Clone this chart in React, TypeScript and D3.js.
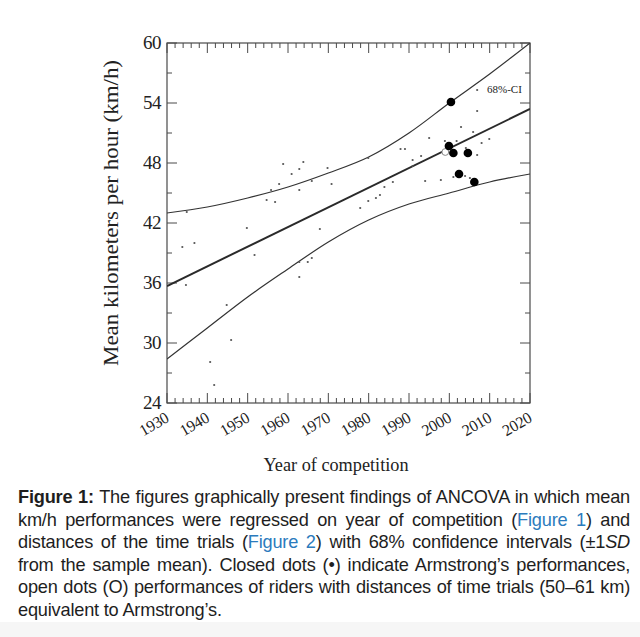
import React, { useLayoutEffect, useRef } from "react";
import * as d3 from "d3";

// ---- data ----
const xMajorTicks = [1930, 1940, 1950, 1960, 1970, 1980, 1990, 2000, 2010, 2020];
const xTickLabels = ["1930", "1940", "1950", "1960", "1970", "1980", "1990", "2000", "2010", "2020"];
const yMajorTicks = [24, 30, 36, 42, 48, 54, 60];
const yTickLabels = ["24", "30", "36", "42", "48", "54", "60"];

const fitYears = [1930, 2020];
const fitKmh = [35.7, 53.4];

const ciYears = [1930, 1940, 1950, 1960, 1970, 1980, 1990, 2000, 2010, 2020];
const ciUpper = [43.0, 43.6, 44.5, 45.6, 47.0, 48.6, 51.0, 54.0, 56.9, 60.0];
const ciLower = [28.4, 31.5, 34.6, 37.4, 40.1, 42.3, 43.9, 45.0, 46.1, 46.9];

const otherYears = [
  1933.8, 1934.9, 1934.7, 1936.8, 1940.7, 1941.7, 1944.8, 1945.9, 1949.8, 1951.7,
  1954.7, 1955.8, 1956.8, 1957.8, 1958.8, 1960.9, 1962.8, 1963.8, 1962.8, 1965.9,
  1969.8, 1970.8, 1967.9, 1965.9, 1962.8, 1964.9, 1962.8, 1977.9, 1979.9, 1981.8,
  1982.8, 1983.9, 1986.0, 1979.9, 1987.9, 1989.0, 1990.9, 1990.9, 1993.0, 1994.0,
  1995.0, 1997.9, 1998.9, 2001.8, 2001.0, 2002.9, 2003.9, 2004.1, 2005.1, 2005.9,
  2006.9, 2006.9, 2006.9, 2008.0, 2009.9,
];
const otherKmh = [
  39.6, 43.1, 35.8, 40.0, 28.1, 25.8, 33.8, 30.3, 41.5, 38.8,
  44.3, 45.3, 44.1, 45.9, 47.9, 46.9, 47.4, 48.1, 45.3, 46.2,
  47.5, 45.9, 41.4, 38.5, 38.1, 38.1, 36.6, 43.5, 44.2, 44.5,
  44.8, 45.6, 46.1, 48.5, 49.4, 49.4, 48.3, 47.7, 48.7, 46.2,
  50.5, 46.3, 50.2, 50.2, 46.6, 51.6, 46.7, 49.5, 46.5, 51.1,
  55.3, 53.2, 48.8, 50.0, 50.4,
];

const equivYears = [1999.0];
const equivKmh = [49.1];

const armstrongYears = [2000.4, 1999.9, 2001.0, 2004.6, 2002.4, 2006.2];
const armstrongKmh = [54.1, 49.7, 49.0, 49.0, 46.9, 46.1];

type Seg = { t: string; b?: boolean; i?: boolean; blue?: boolean };
const captionLines: { segs: Seg[]; justify: boolean }[] = [
  { segs: [{ t: "Figure 1:", b: true }, { t: " The figures graphically present findings of ANCOVA in which mean" }], justify: true },
  { segs: [{ t: "km/h performances were regressed on year of competition (" }, { t: "Figure 1", blue: true }, { t: ") and" }], justify: true },
  { segs: [{ t: "distances of the time trials (" }, { t: "Figure 2", blue: true }, { t: ") with 68% confidence intervals (±1" }, { t: "SD", i: true }], justify: true },
  { segs: [{ t: "from the sample mean). Closed dots (•) indicate Armstrong’s performances," }], justify: true },
  { segs: [{ t: "open dots (O) performances of riders with distances of time trials (50–61 km)" }], justify: true },
  { segs: [{ t: "equivalent to Armstrong’s." }], justify: false },
];

// ---- layout ----
const W = 640;
const H = 637;
const L = 167, R = 530, T = 43, B = 403;

export default function App() {
  const x = d3.scaleLinear().domain([1930, 2020]).range([L, R]);
  const y = d3.scaleLinear().domain([24, 60]).range([B, T]);

  const curve = d3
    .line<number>()
    .x((_, i) => x(ciYears[i]))
    .curve(d3.curveMonotoneX);
  const upperPath = curve.y((d) => y(d))(ciUpper) || "";
  const lowerPath = curve.y((d) => y(d))(ciLower) || "";
  const fitPath =
    d3
      .line<number>()
      .x((_, i) => x(fitYears[i]))
      .y((d) => y(d))(fitKmh) || "";

  const xMinor = d3.range(1930, 2021, 2).filter((v) => v % 10 !== 0);
  const yMinor = d3.range(27, 60, 6);

  const capRefs = useRef<(SVGTextElement | null)[]>([]);
  useLayoutEffect(() => {
    const target = 612;
    capRefs.current.forEach((el, i) => {
      if (!el || !captionLines[i].justify) return;
      el.style.wordSpacing = "0px";
      const w = el.getComputedTextLength();
      const text = captionLines[i].segs.map((s) => s.t).join("");
      const spaces = (text.match(/ /g) || []).length;
      if (spaces > 0) el.style.wordSpacing = `${(target - w) / spaces}px`;
    });
  }, []);

  const axisColor = "#4a4a4a";
  const textColor = "#222";

  return (
    <svg
      width={W}
      height={H}
      viewBox={`0 0 ${W} ${H}`}
      style={{ position: "absolute", left: 0, top: 0, background: "#fff" }}
    >
      <rect x={0} y={0} width={W} height={H} fill="#fff" />
      <rect x={0} y={622} width={W} height={H - 622} fill="#f6f6f6" />
      <defs>
        <clipPath id="plot">
          <rect x={L} y={T} width={R - L} height={B - T} />
        </clipPath>
      </defs>

      {/* ticks on all four sides, pointing inward */}
      <g stroke={axisColor} strokeWidth={1}>
        {xMajorTicks.map((v) => (
          <g key={"xm" + v}>
            <line x1={x(v)} x2={x(v)} y1={B} y2={B - 10} />
            <line x1={x(v)} x2={x(v)} y1={T} y2={T + 10} />
          </g>
        ))}
        {xMinor.map((v) => (
          <g key={"xn" + v}>
            <line x1={x(v)} x2={x(v)} y1={B} y2={B - 5} />
            <line x1={x(v)} x2={x(v)} y1={T} y2={T + 5} />
          </g>
        ))}
        {yMajorTicks.map((v) => (
          <g key={"ym" + v}>
            <line x1={L} x2={L + 10} y1={y(v)} y2={y(v)} />
            <line x1={R} x2={R - 10} y1={y(v)} y2={y(v)} />
          </g>
        ))}
        {yMinor.map((v) => (
          <g key={"yn" + v}>
            <line x1={L} x2={L + 5} y1={y(v)} y2={y(v)} />
            <line x1={R} x2={R - 5} y1={y(v)} y2={y(v)} />
          </g>
        ))}
      </g>
      <rect x={L} y={T} width={R - L} height={B - T} fill="none" stroke={axisColor} strokeWidth={1.2} />

      {/* curves */}
      <g clipPath="url(#plot)" fill="none">
        <path d={upperPath} stroke="#333" strokeWidth={1.2} />
        <path d={lowerPath} stroke="#333" strokeWidth={1.2} />
        <path d={fitPath} stroke="#2a2a2a" strokeWidth={2} />
      </g>

      {/* points */}
      <g fill="#555">
        {otherYears.map((yr, i) => (
          <circle key={"o" + i} cx={x(yr)} cy={y(otherKmh[i])} r={1.1} />
        ))}
      </g>
      <g fill="#fff" stroke="#888" strokeWidth={1}>
        {equivYears.map((yr, i) => (
          <circle key={"e" + i} cx={x(yr)} cy={y(equivKmh[i])} r={3.4} />
        ))}
      </g>
      <g fill="#000">
        {armstrongYears.map((yr, i) => (
          <circle key={"a" + i} cx={x(yr)} cy={y(armstrongKmh[i])} r={4.3} />
        ))}
      </g>

      <text x={487} y={93} fontFamily="'Liberation Serif', serif" fontSize={11} fill={textColor}>
        68%-CI
      </text>

      {/* y tick labels */}
      <g fontFamily="'Liberation Serif', serif" fontSize={19} fill={textColor} textAnchor="end">
        {yMajorTicks.map((v, i) => (
          <text key={"yl" + v} x={161} y={y(v)} dy="0.34em" letterSpacing={-0.5}>
            {yTickLabels[i]}
          </text>
        ))}
      </g>
      {/* x tick labels */}
      <g fontFamily="'Liberation Serif', serif" fontSize={16} fill={textColor} textAnchor="end">
        {xMajorTicks.map((v, i) => (
          <text key={"xl" + v} transform={`translate(${x(v) + 3},${421}) rotate(-30)`} letterSpacing={-0.3}>
            {xTickLabels[i]}
          </text>
        ))}
      </g>

      {/* axis titles */}
      <text
        x={336}
        y={471}
        textAnchor="middle"
        fontFamily="'Liberation Serif', serif"
        fontSize={19}
        fill={textColor}
        textLength={145}
        lengthAdjust="spacingAndGlyphs"
      >
        Year of competition
      </text>
      <text
        transform={`translate(118,213) rotate(-90)`}
        textAnchor="middle"
        fontFamily="'Liberation Serif', serif"
        fontSize={20}
        fill={textColor}
        textLength={306}
        lengthAdjust="spacingAndGlyphs"
      >
        Mean kilometers per hour (km/h)
      </text>

      {/* caption */}
      <g fontFamily="'Liberation Sans', Arial, sans-serif" fontSize={18.2} fill="#1e1e1e">
        {captionLines.map((ln, i) => (
          <text
            key={"c" + i}
            ref={(el) => {
              capRefs.current[i] = el;
            }}
            x={18}
            y={503 + i * 22.6}
            letterSpacing={-0.2}
          >
            {ln.segs.map((s, j) => (
              <tspan
                key={j}
                fontWeight={s.b ? "bold" : undefined}
                fontStyle={s.i ? "italic" : undefined}
                fill={s.blue ? "#2b7bbd" : undefined}
              >
                {s.t}
              </tspan>
            ))}
          </text>
        ))}
      </g>
    </svg>
  );
}
